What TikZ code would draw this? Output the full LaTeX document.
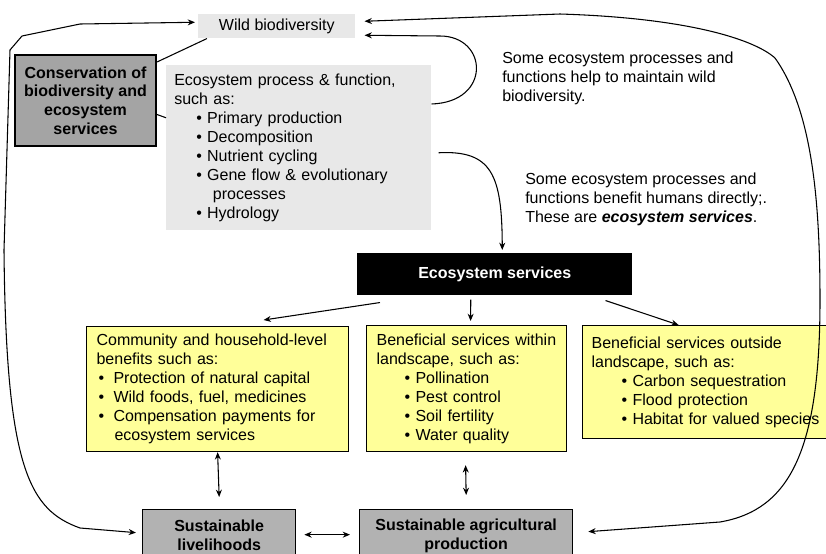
\documentclass[tikz,border=0pt]{standalone}
\usepackage{fontspec}
\setmainfont{Liberation Sans}
\usepackage{tikz}
\usetikzlibrary{arrows.meta,calc,positioning}
\definecolor{lightgr}{RGB}{232,232,232}
\definecolor{midgr}{RGB}{178,178,178}
\definecolor{paleyel}{RGB}{255,255,153}
\newcommand{\bul}[1]{\hspace*{#1}\textbullet\ }

\begin{document}
\begin{tikzpicture}[x=0.75pt,y=-0.75pt,
    every node/.style={font=\fontsize{12}{14.2}\selectfont},
    conn/.style={line width=0.8pt},
    tip/.style={-{Stealth[length=5.5pt,width=4.5pt]}},
    tips/.style={{Stealth[length=5.5pt,width=4.5pt]}-{Stealth[length=5.5pt,width=4.5pt]}},
    graybox/.style={fill=lightgr, anchor=north west, inner sep=0pt},
    ybox/.style={draw, line width=0.9pt, fill=paleyel, anchor=north west, align=left, inner xsep=7.5pt, inner ysep=0pt},
    sbox/.style={draw, line width=1pt, fill=midgr, anchor=north west, align=center, inner sep=0pt,
      font=\fontsize{12}{14.2}\selectfont\bfseries},
    note/.style={anchor=north west, align=left, inner sep=0pt}]
\useasboundingbox (0,0) rectangle (826,554);

% boxes
\node[graybox, minimum width=117.75pt, minimum height=18pt] (wild) at (198,14) {Wild biodiversity};
\node[sbox, line width=1.5pt, fill=midgr!92!black, minimum width=105.75pt, minimum height=68.25pt,
  font=\fontsize{12}{13.9}\selectfont\bfseries] (cons) at (14,54)
  {Conservation of\\biodiversity and\\ecosystem\\services};
\node[graybox, align=left, inner xsep=6pt, text width=186.75pt, minimum height=123.75pt] (proc) at (166,65)
  {Ecosystem process \& function,\\such as:\\
   \bul{16.5pt}Primary production\\
   \bul{16.5pt}Decomposition\\
   \bul{16.5pt}Nutrient cycling\\
   \bul{16.5pt}Gene flow \& evolutionary\\
   \hspace*{29pt}processes\\
   \bul{16.5pt}Hydrology};
\node[note] (note1) at (502,52) {Some ecosystem processes and\\functions help to maintain wild\\biodiversity.};
\node[note] (note2) at (525,173) {Some ecosystem processes and\\functions benefit humans directly;.\\These are \textbf{\textit{ecosystem services}}.};
\node[fill=black, text=white, anchor=north west, minimum width=206.25pt, minimum height=31.5pt,
  font=\fontsize{12}{14.2}\selectfont\bfseries] (ess) at (357,253) {Ecosystem services};

\node[ybox, text width=181.5pt, minimum height=93.75pt] (comm) at (86,326)
  {Community and household-level\\benefits such as:\\
   \bul{1.5pt}\hspace{3pt}Protection of natural capital\\
   \bul{1.5pt}\hspace{3pt}Wild foods, fuel, medicines\\
   \bul{1.5pt}\hspace{3pt}Compensation payments for\\
   \hspace*{13.5pt}ecosystem services};
\node[ybox, text width=135pt, minimum height=94.5pt] (within) at (366,325)
  {Beneficial services within\\landscape, such as:\\
   \bul{21pt}Pollination\\
   \bul{21pt}Pest control\\
   \bul{21pt}Soil fertility\\
   \bul{21pt}Water quality};
\node[ybox, inner xsep=6.75pt, text width=169.5pt, minimum height=84.75pt] (outside) at (582,325)
  {Beneficial services outside\\landscape, such as:\\
   \bul{22.5pt}Carbon sequestration\\
   \bul{22.5pt}Flood protection\\
   \mbox{\bul{22.5pt}Habitat for valued species}};

\node[sbox, minimum width=114.75pt, minimum height=39pt] (liveli) at (142,509) {Sustainable\\livelihoods};
\node[sbox, minimum width=159.75pt, minimum height=39pt] (agri) at (359,509) {Sustainable agricultural\\production};

% plain links
\draw[conn] ($(wild.south west)+(9,0)$) -- ($(cons.north east)+(0,8)$);
\draw[conn] ($(cons.east)+(0,14)$) -- ($(proc.west)+(0,-30)$);

% feedback loops
\draw[conn,tip] ($(proc.north east)+(0,39)$) .. controls (492,102) and (488,36) .. (440,36) -- ($(wild.east)+(9,9)$);
\draw[conn,tip] ($(proc.east)+(7,5)$) .. controls (492,150) and (502,175) .. ($(ess.north)+(7.5,-3)$);

% outer curves
\draw[conn,tips] ($(wild.west)+(-3,-4)$) -- (80,24) -- (22,36) -- (10,50) -- (4,250)
  .. controls (6,470) and (30,510) .. (80,528) -- ($(liveli.west)+(-6,-3)$);
\draw[conn,tips] ($(wild.east)+(9,-5)$) -- (560,14) .. controls (690,18) and (755,40) .. (775,58)
  .. controls (812,110) and (820,200) .. (820,300) .. controls (820,450) and (790,510) .. (720,522)
  -- ($(agri.east)+(15,-4)$);

% from ecosystem services
\draw[conn,tip] ($(ess.south west)+(23,7)$) -- ($(comm.north)+(46,-6)$);
\draw[conn,tip] ($(ess.south)+(-24,4)$) -- ($(within.north)+(4,-4)$);
\draw[conn,tip] ($(ess.south east)+(-27,5)$) -- ($(outside.north)+(-26,0)$);

% two-way links
\draw[conn,tips] (comm.south) -- ($(liveli.north)+(0,-12)$);
\draw[conn,tips] ($(within.south)+(-1,13)$) -- ($(agri.north)+(0,-14)$);
\draw[conn,tips] ($(liveli.east)+(8,-1)$) -- ($(agri.west)+(-9,-1)$);
\end{tikzpicture}
\end{document}
